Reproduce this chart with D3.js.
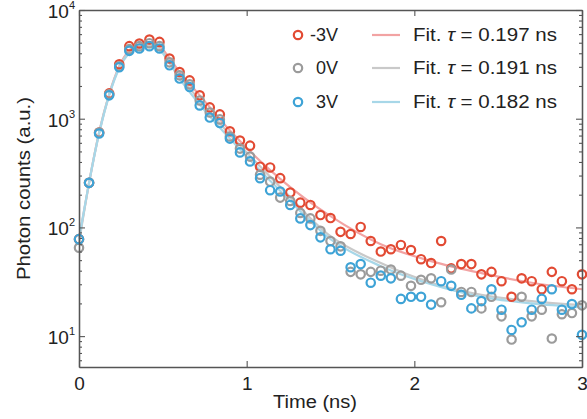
<!DOCTYPE html>
<html lang="en">
<head>
<meta charset="UTF-8">
<title>Photon counts vs time</title>
<script src="https://d3js.org/d3.v7.min.js"></script>
<style>
  body { margin: 0; background: #fff; }
  text { font-family: "Liberation Sans", Arial, sans-serif; fill: #222; }
</style>
</head>
<body>
<svg width="587" height="419"></svg>
<script>
// time grid (ns)
const times = [0, 0.06, 0.12, 0.18, 0.24, 0.3, 0.36, 0.42, 0.48, 0.54,
  0.6, 0.66, 0.72, 0.78, 0.84, 0.9, 0.96, 1.02, 1.08, 1.14,
  1.2, 1.26, 1.32, 1.38, 1.44, 1.5, 1.56, 1.62, 1.68, 1.74,
  1.8, 1.86, 1.92, 1.98, 2.04, 2.1, 2.16, 2.22, 2.28, 2.34,
  2.4, 2.46, 2.52, 2.58, 2.64, 2.7, 2.76, 2.82, 2.88, 2.94, 3.0];

// measured counts
const negCounts = [78, 257, 745, 1710, 3170, 4650, 4920, 5350, 5090, 3580,
  2690, 2250, 1640, 1270, 1095, 766, 629, 565, 362, 356,
  284, 209, 169, 161, 130, 122, 91, 87, 101, 75,
  60, 63, 69, 62, 51, 47, 75, 42, 46, 46,
  37, 39, 32, 23, 34, 32, 27, 39, 32, 27, 37];
const zeroCounts = [65, 257, 745, 1680, 3035, 4365, 4650, 4950, 4650, 3300,
  2505, 2070, 1470, 1140, 985, 686, 531, 448, 305, 264,
  188, 175, 136, 121, 93, 75, 67, 39, 37, 39,
  40, 41, 36, 29, 33, 34, 20.5, 41, 25.5, 25.5,
  18, 23, 15.2, 9.3, 23, 15.2, 17.5, 9.5, 15.9, 16.3, 19.2];
const posCounts = [78, 257, 730, 1640, 2970, 4210, 4430, 4650, 4430, 3100,
  2340, 1955, 1325, 1025, 912, 656, 490, 405, 284, 220,
  214, 161, 121, 105, 81, 63, 61, 43, 46, 31,
  36, 34, 22, 23, 23, 19.5, 32, 29, 24, 18,
  21, 27, 17.5, 11.4, 13.4, 17.5, 22, 27, 17.5, 19.7, 10.3];

// fitted curves, read at these times
const fitTimes = [0, 0.06, 0.12, 0.18, 0.24, 0.3, 0.36, 0.42, 0.48, 0.54,
  0.6, 0.72, 0.9, 1.2, 1.5, 1.8, 2.1, 2.4, 2.7, 3.0];
const negFit = [78, 257, 745, 1675, 3035, 4270, 4850, 5060, 4650, 3600,
  2675, 1640, 778, 280, 127, 70, 49, 38, 31, 27];
const zeroFit = [72, 257, 745, 1675, 2970, 4180, 4650, 4755, 4455, 3380,
  2505, 1470, 715, 236, 83, 47, 31, 24, 21, 19.2];
const posFit = [78, 257, 730, 1640, 2910, 4005, 4455, 4550, 4270, 3235,
  2340, 1352, 656, 217, 78, 44, 30, 23, 20, 18.4];

const seriesNames = ["-3V", "0V", "3V"];
const fitLabels = ["0.197", "0.191", "0.182"];
const pointColors = ["#e24a33", "#9b9b9b", "#3ea3d6"];
const fitColors = ["#f2a3a3", "#c9c9c9", "#a7d7e8"];

const xTicks = [0, 1, 2, 3];
const yMajor = [10, 100, 1000, 10000];

const svg = d3.select("svg");
const plotLeft = 79, plotRight = 582, plotTop = 10, plotBottom = 367;

const x = d3.scaleLinear().domain([0, 3]).range([plotLeft, plotRight]);
const y = d3.scaleLog().domain([5.2, 10000]).range([plotBottom, plotTop]);

const yMinor = [];
[1, 10, 100, 1000].forEach(d => {
  for (let k = 2; k <= 9; k++) {
    const v = d * k;
    if (v >= 5.2 && v < 10000) yMinor.push(v);
  }
});

const axisColor = "#555";

// fit lines
const counts = [negCounts, zeroCounts, posCounts];
const fits = [negFit, zeroFit, posFit];
const line = d3.line()
  .x(d => x(d[0]))
  .y(d => y(d[1]))
  .curve(d3.curveMonotoneX);

fits.forEach((f, i) => {
  svg.append("path")
    .datum(fitTimes.map((t, j) => [t, f[j]]))
    .attr("d", line)
    .attr("fill", "none")
    .attr("stroke", fitColors[i])
    .attr("stroke-width", 2.2);
});

// data points
counts.forEach((c, i) => {
  svg.append("g")
    .selectAll("circle")
    .data(times.map((t, j) => [t, c[j]]))
    .join("circle")
      .attr("cx", d => x(d[0]))
      .attr("cy", d => y(d[1]))
      .attr("r", 4.2)
      .attr("fill", "none")
      .attr("stroke", pointColors[i])
      .attr("stroke-width", 2.2);
});

// axes box
function styleAxis(g) {
  g.selectAll("path").attr("stroke", axisColor).attr("stroke-width", 1.3);
  g.selectAll("line").attr("stroke", axisColor).attr("stroke-width", 1.1);
}

svg.append("g")
  .attr("transform", `translate(${plotLeft},0)`)
  .call(d3.axisLeft(y).tickValues(yMinor).tickSize(-3).tickSizeOuter(0).tickFormat(""))
  .call(styleAxis);
svg.append("g")
  .attr("transform", `translate(${plotLeft},0)`)
  .call(d3.axisLeft(y).tickValues(yMajor).tickSize(-6).tickSizeOuter(0).tickFormat(""))
  .call(styleAxis);
svg.append("g")
  .attr("transform", `translate(${plotRight},0)`)
  .call(d3.axisRight(y).tickValues(yMinor).tickSize(-3).tickSizeOuter(0).tickFormat(""))
  .call(styleAxis);
svg.append("g")
  .attr("transform", `translate(${plotRight},0)`)
  .call(d3.axisRight(y).tickValues(yMajor).tickSize(-6).tickSizeOuter(0).tickFormat(""))
  .call(styleAxis);

const xAxisB = svg.append("g")
  .attr("transform", `translate(0,${plotBottom})`)
  .call(d3.axisBottom(x).tickValues(xTicks).tickSize(-6).tickSizeOuter(0)
    .tickPadding(10).tickFormat(d3.format("d")))
  .call(styleAxis);
xAxisB.selectAll("text")
  .attr("font-size", 19)
  .attr("fill", "#222")
  .style("font-family", "'Liberation Sans', Arial, sans-serif");

svg.append("g")
  .attr("transform", `translate(0,${plotTop})`)
  .call(d3.axisTop(x).tickValues(xTicks).tickSize(-6).tickSizeOuter(0).tickFormat(""))
  .call(styleAxis);

// y tick labels 10^n
yMajor.forEach(v => {
  const t = svg.append("text")
    .attr("x", plotLeft - 4)
    .attr("y", y(v) + 8)
    .attr("text-anchor", "end")
    .attr("font-size", 19);
  t.append("tspan").text("10");
  t.append("tspan")
    .attr("font-size", 11)
    .attr("dy", -9)
    .text(Math.round(Math.log10(v)));
});

// axis titles
svg.append("text")
  .attr("x", 273)
  .attr("y", 408)
  .attr("font-size", 18)
  .attr("textLength", 84)
  .attr("lengthAdjust", "spacingAndGlyphs")
  .text("Time (ns)");

svg.append("text")
  .attr("transform", "rotate(-90)")
  .attr("x", -280)
  .attr("y", 30)
  .attr("font-size", 18)
  .attr("textLength", 183)
  .attr("lengthAdjust", "spacingAndGlyphs")
  .text("Photon counts (a.u.)");

// legend
const legendY = [35, 68, 102];
seriesNames.forEach((name, i) => {
  const ly = legendY[i];
  svg.append("circle")
    .attr("cx", 298).attr("cy", ly).attr("r", 4.2)
    .attr("fill", "none")
    .attr("stroke", pointColors[i])
    .attr("stroke-width", 2.2);
  svg.append("text")
    .attr("x", 338).attr("y", ly + 6)
    .attr("text-anchor", "end")
    .attr("font-size", 18)
    .text(name);
  svg.append("line")
    .attr("x1", 372).attr("x2", 400)
    .attr("y1", ly).attr("y2", ly)
    .attr("stroke", fitColors[i])
    .attr("stroke-width", 2.2);
  const t = svg.append("text")
    .attr("x", 413).attr("y", ly + 6)
    .attr("font-size", 18)
    .attr("textLength", 144)
    .attr("lengthAdjust", "spacingAndGlyphs");
  t.append("tspan").text("Fit. ");
  t.append("tspan").attr("font-style", "italic").text("τ");
  t.append("tspan").text(` = ${fitLabels[i]} ns`);
});
</script>
</body>
</html>
